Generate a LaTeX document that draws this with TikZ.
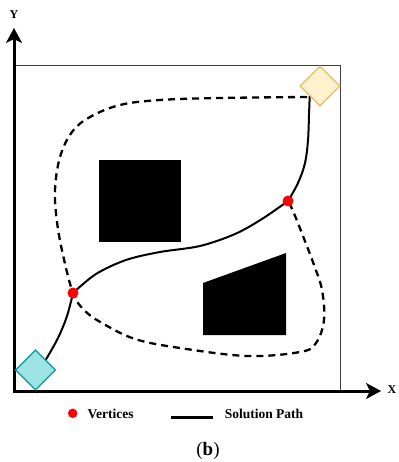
\documentclass[tikz,border=0pt]{standalone}
\usepackage{fontspec}
\setmainfont{Liberation Serif}
\usetikzlibrary{shapes.geometric,arrows.meta}
\definecolor{startfill}{HTML}{9EE3E4}
\definecolor{startdraw}{HTML}{17A0A5}
\definecolor{goalfill}{HTML}{FFF2CC}
\definecolor{goaldraw}{HTML}{E6BF6A}
\definecolor{framegray}{HTML}{3C3C3C}
\definecolor{vertexred}{HTML}{FF0000}
\begin{document}
\begin{tikzpicture}[x=1pt,y=-1pt,
  axis/.style={line width=3pt,
    {Stealth[length=15pt,width=16pt,inset=4pt]}-{Stealth[length=15pt,width=16pt,inset=4pt]}},
  frame/.style={draw=framegray,line width=1pt},
  obstacle/.style={fill=black},
  solpath/.style={line width=2pt,line cap=round},
  altpath/.style={line width=2.3pt,dash pattern=on 7pt off 5pt},
  waypoint/.style={diamond,minimum width=40pt,minimum height=40pt,inner sep=0pt,line width=1.2pt},
  vertex/.style={circle,fill=vertexred,inner sep=0pt,minimum size=11pt},
  lbl/.style={font=\fontsize{13.5}{16}\selectfont\bfseries,inner sep=0pt},
  axlbl/.style={font=\fontsize{12}{14}\selectfont\bfseries,inner sep=0pt}]
\useasboundingbox (0,0) rectangle (398,462);

% workspace frame and axes
\coordinate (ftl) at (14,66);
\coordinate (fbr) at (340,391);
\draw[frame] (ftl) rectangle (fbr);
\coordinate (o) at (14,391);
\coordinate (ytip) at (14,28);
\coordinate (xtip) at (381,391);
\draw[axis] (ytip) -- (o) -- (xtip);
\node[axlbl] (ylab) at (14,15) {Y};
\node[axlbl] (xlab) at (392,390) {X};

% obstacles
\fill[obstacle] (99,160) rectangle (181,242);
\fill[obstacle] (203,283) -- (286,253) -- (286,335) -- (203,335) -- cycle;

% start, goal and vertices
\node[waypoint,draw=startdraw,fill=startfill] (start) at (35.5,370) {};
\node[waypoint,draw=goaldraw,fill=goalfill] (goal) at (320,86) {};
\coordinate (v1) at (73,293);
\coordinate (v2) at (288,201);
\coordinate (ds) at (307,97);

% alternative (dashed) loop
\draw[altpath] plot[smooth,tension=0.6] coordinates {
  (ds) (220,98) (160,100) (120,105) (90,117) (72,132) (60,157) (55,190)
  (57,222) (63,255) (v1) (84,310) (102,323) (135,339) (180,348) (247,356)
  (300,352) (316,343) (324,320) (322,290) (314,265) (303,236) (293,211) (v2)};

% solution path
\draw[solpath] plot[smooth,tension=0.6] coordinates {
  (start.north east) (58,338) (67,316) (v1)};
\draw[solpath] plot[smooth,tension=0.55] coordinates {
  (v1) (96,274) (126,260) (160,252) (200,246) (235,234) (262,219) (v2)};
\draw[solpath] plot[smooth,tension=0.6] coordinates {
  (v2) (298,183) (305,163) (308,140) (309,115) (goal.south west)};

% redraw the markers above the paths
\node[waypoint,draw=startdraw,fill=startfill] at (start) {};
\node[waypoint,draw=goaldraw,fill=goalfill] at (goal) {};
\node[vertex] (n1) at (v1) {};
\node[vertex] (n2) at (v2) {};

% legend
\node[vertex,minimum size=9.5pt] (legv) at (72.7,413.3) {};
\node[lbl] (legvt) at (110.5,414) {Vertices};
\coordinate (la) at (171,417.5);
\coordinate (lb) at (212.5,417.5);
\draw[line width=2.6pt] (la) -- (lb);
\node[lbl] (legst) at (264,414) {Solution Path};

% caption
\node[inner sep=0pt,font=\fontsize{19}{22}\selectfont] (cap) at (208,451) {(\textbf{b})};
\end{tikzpicture}
\end{document}
